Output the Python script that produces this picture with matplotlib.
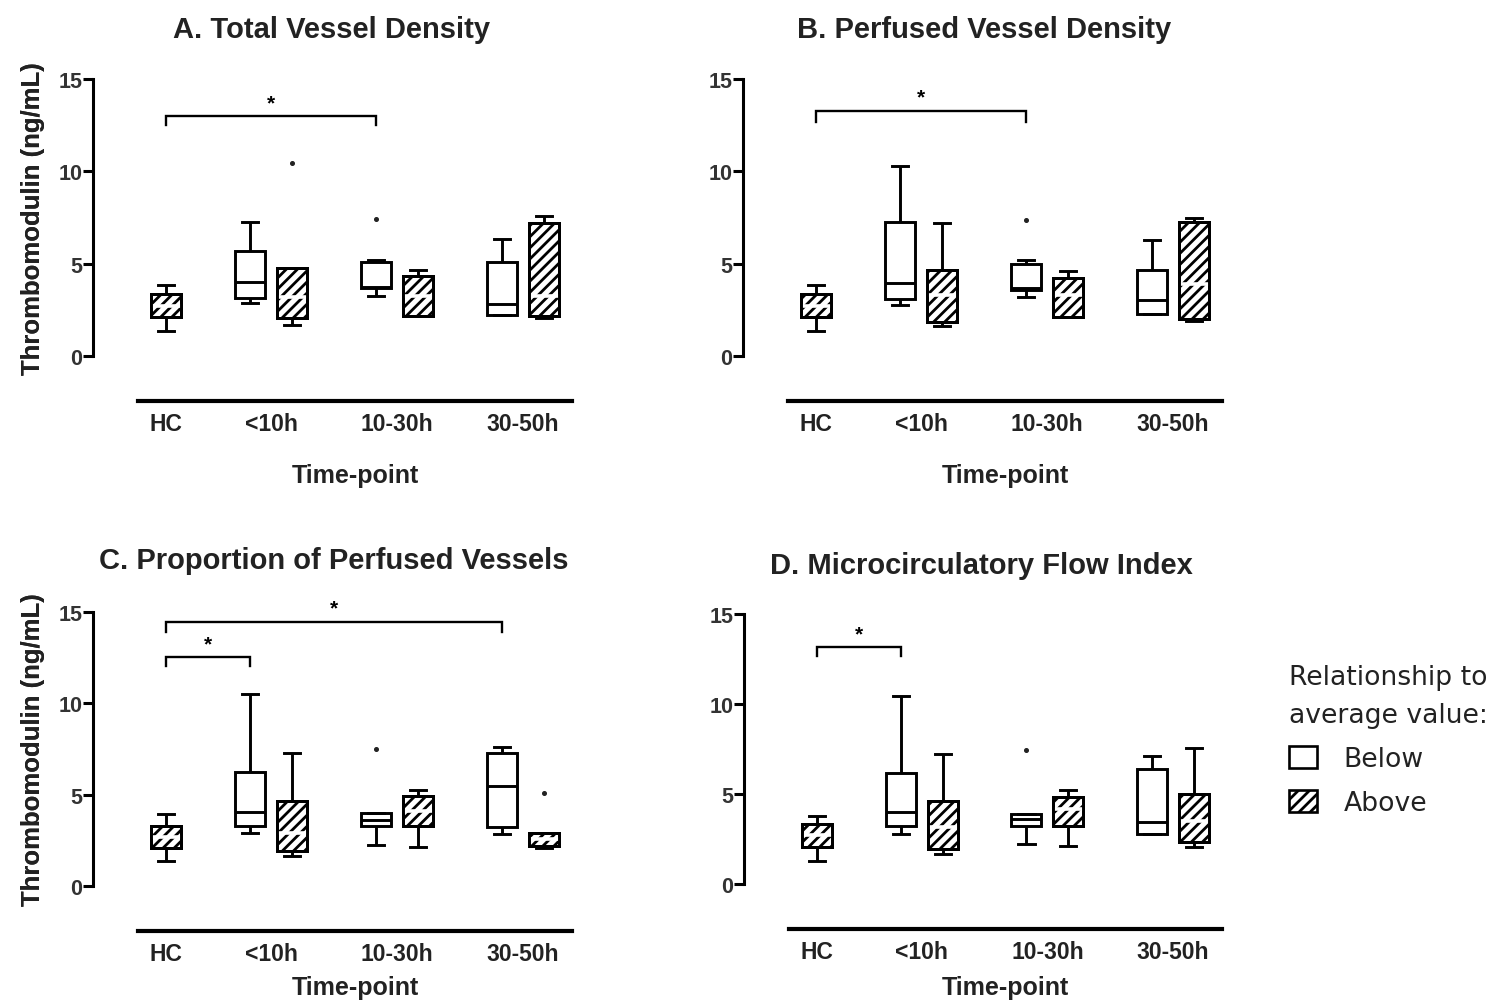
import matplotlib
matplotlib.use("Agg")
import matplotlib.pyplot as plt
from matplotlib.patches import Patch, PathPatch

# ---------------- data ----------------
groups = ["HC", "<10h", "10-30h", "30-50h"]
titles = ["A. Total Vessel Density", "B. Perfused Vessel Density",
          "C. Proportion of Perfused Vessels", "D. Microcirculatory Flow Index"]
ylabel = "Thrombomodulin (ng/mL)"
xlabel = "Time-point"
legend_title = "Relationship to\naverage value:"
series_names = ["Below", "Above"]

# stats: [whisker_low, q1, median, q3, whisker_high]
# "Below" series: groups <10h, 10-30h, 30-50h
A_below = [[2.87, 3.14, 4.00, 5.70, 7.25], [3.25, 3.68, 3.75, 5.08, 5.20], [2.22, 2.22, 2.82, 5.08, 6.33]]
A_below_out = [[], [7.42], []]
# "Above" series: groups HC, <10h, 10-30h, 30-50h
A_above = [[1.37, 2.10, 2.71, 3.36, 3.84], [1.68, 2.06, 3.19, 4.76, 4.76], [2.17, 2.17, 3.25, 4.33, 4.66], [2.05, 2.17, 3.25, 7.20, 7.58]]
A_above_out = [[], [10.43], [], []]

B_below = [[2.78, 3.09, 3.95, 7.24, 10.30], [3.18, 3.55, 3.70, 5.00, 5.18], [2.27, 2.27, 3.04, 4.67, 6.27]]
B_below_out = [[], [7.36], []]
B_above = [[1.37, 2.10, 2.71, 3.36, 3.84], [1.60, 1.85, 3.30, 4.67, 7.20], [2.10, 2.10, 3.30, 4.24, 4.60], [1.90, 2.00, 3.90, 7.24, 7.45]]
B_above_out = [[], [], [], []]

C_below = [[2.90, 3.28, 4.05, 6.24, 10.50], [2.24, 3.28, 3.60, 4.00, 4.00], [2.85, 3.23, 5.47, 7.28, 7.60]]
C_below_out = [[], [7.50], []]
C_above = [[1.37, 2.10, 2.68, 3.28, 3.94], [1.64, 1.92, 2.90, 4.65, 7.28], [2.13, 3.28, 4.10, 4.93, 5.25], [2.10, 2.19, 2.57, 2.90, 2.90]]
C_above_out = [[], [], [], [5.09]]

D_below = [[2.78, 3.22, 4.00, 6.17, 10.46], [2.22, 3.22, 3.60, 3.89, 3.89], [2.78, 2.78, 3.44, 6.39, 7.11]]
D_below_out = [[], [7.44], []]
D_above = [[1.30, 2.04, 2.70, 3.33, 3.80], [1.67, 1.94, 3.17, 4.61, 7.22], [2.11, 3.22, 4.17, 4.83, 5.22], [2.05, 2.33, 3.50, 5.00, 7.56]]
D_above_out = [[], [], [], []]

# significance brackets: (from group, from series, to group, to series, height, drop)
A_sig = [(0, "Above", 2, "Below", 12.98, 0.45)]
B_sig = [(0, "Above", 2, "Below", 13.27, 0.60)]
C_sig = [(0, "Above", 3, "Below", 14.45, 0.55), (0, "Above", 1, "Below", 12.53, 0.50)]
D_sig = [(0, "Above", 1, "Below", 13.15, 0.46)]

panels = [
    (A_below, A_below_out, A_above, A_above_out, A_sig),
    (B_below, B_below_out, B_above, B_above_out, B_sig),
    (C_below, C_below_out, C_above, C_above_out, C_sig),
    (D_below, D_below_out, D_above, D_above_out, D_sig),
]

# ---------------- layout ----------------
W, H = 1492, 1003
fig = plt.figure(figsize=(W / 100, H / 100), dpi=100)
plt.rcParams["hatch.linewidth"] = 2.0
plt.rcParams["hatch.color"] = "black"

FONT = "Liberation Sans"
# axes boxes in pixels: x_left, x_right, y(15), y(0)
boxes_px = [(138, 572, 80, 357), (788, 1222, 80, 357), (138, 572, 613, 887), (789, 1222, 615, 885)]
title_px = [(332, 30), (984, 30), (334, 561), (981, 566)]

off = 0.167
width = 0.24
group_x = {0: 0.0, 1: 1.0, 2: 2.0, 3: 3.0}


def xpos(g, s):
    return group_x[g] + (-off if s == "Below" else off)


def stat_dicts(stats, outs):
    res = []
    for st, o in zip(stats, outs):
        res.append(dict(whislo=st[0], q1=st[1], med=st[2], q3=st[3], whishi=st[4], fliers=o))
    return res


lw = 2.1
for k, (below, below_out, above, above_out, sig) in enumerate(panels):
    x0, x1, y15, y0 = boxes_px[k]
    ax = fig.add_axes([x0 / W, 1 - y0 / H, (x1 - x0) / W, (y0 - y15) / H])
    ax.set_xlim(-0.056, 3.39)
    ax.set_ylim(0, 15)

    common = dict(widths=width, capwidths=0.13, patch_artist=True, manage_ticks=False,
                  whiskerprops=dict(color="black", lw=lw, solid_capstyle="butt"),
                  capprops=dict(color="black", lw=lw),
                  flierprops=dict(marker="o", markersize=2.6, markerfacecolor="#222222",
                                  markeredgecolor="#222222", linestyle="none"))
    # Below (open boxes)
    pos_b = [xpos(g, "Below") for g in (1, 2, 3)]
    ax.bxp(stat_dicts(below, below_out), positions=pos_b,
           boxprops=dict(facecolor="white", edgecolor="black", lw=lw),
           medianprops=dict(color="black", lw=lw, solid_capstyle="butt"), **common)
    # Above (hatched boxes)
    pos_a = [xpos(g, "Above") for g in (0, 1, 2, 3)]
    ra = ax.bxp(stat_dicts(above, above_out), positions=pos_a,
                boxprops=dict(facecolor="white", edgecolor="black", lw=lw, hatch="///"),
                medianprops=dict(color="white", lw=2.6, solid_capstyle="butt", zorder=2.1), **common)
    for b in ra["boxes"]:
        ax.add_patch(PathPatch(b.get_path(), fill=False, edgecolor="black", lw=lw, zorder=2.2))

    # significance brackets
    for (g1, s1, g2, s2, h, d) in sig:
        xa, xb = xpos(g1, s1), xpos(g2, s2)
        ax.plot([xa, xa, xb, xb], [h - d, h, h, h - d], color="black", lw=1.7,
                solid_joinstyle="miter", clip_on=False)
        ax.text((xa + xb) / 2, h + 0.75, "*", ha="center", va="center",
                fontsize=15, fontweight="bold", family=FONT)

    # spines
    for s in ("top", "right"):
        ax.spines[s].set_visible(False)
    ax.spines["left"].set_position(("outward", 45 * 0.72))
    ax.spines["left"].set_bounds(0, 15)
    ax.spines["left"].set_linewidth(2.2)
    ax.spines["bottom"].set_position(("outward", 45 * 0.72))
    ax.spines["bottom"].set_linewidth(3.0)

    ax.set_yticks([0, 5, 10, 15])
    ax.set_yticklabels(["0", "5", "10", "15"], fontsize=15.5, fontweight="bold",
                       family=FONT, color="#333333")
    ax.tick_params(axis="y", length=7, width=2.2, pad=0.5, color="black")
    ax.set_xticks([xpos(0, "Above"), 1, 2, 3])
    ax.set_xticklabels(groups, fontsize=16.5, fontweight="bold", family=FONT, color="#222222")
    ax.tick_params(axis="x", length=0, pad=8)

    ax.set_ylabel(ylabel, fontsize=18.5, fontweight="bold", family=FONT, color="#222222")
    ax.yaxis.set_label_coords((45 - x0) / (x1 - x0), 0.5)
    lab = ax.set_xlabel(xlabel, fontsize=18, fontweight="bold", family=FONT, color="#222222")
    lab.set_verticalalignment("center")
    ty = 476 if k < 2 else 988
    ax.xaxis.set_label_coords(0.5, (y0 - ty) / (y0 - y15))
    ax.patch.set_alpha(0)

    tx, tyy = title_px[k]
    fig.text(tx / W, 1 - tyy / H, titles[k], ha="center", va="center",
             fontsize=21, fontweight="bold", family=FONT, color="#222222")

handles = [Patch(facecolor="white", edgecolor="black", lw=1.9),
           Patch(facecolor="white", edgecolor="black", lw=1.9, hatch="///")]
leg = fig.legend(handles, series_names, title=legend_title, loc="upper left",
                 bbox_to_anchor=(1289 / W, 1 - 665 / H), frameon=False,
                 prop=dict(family="DejaVu Sans", size=19.2),
                 title_fontproperties=dict(family="DejaVu Sans", size=19.2),
                 alignment="left", handlelength=1.05, handleheight=0.85,
                 handletextpad=1.0, labelspacing=0.68, borderpad=0, borderaxespad=0)
for t in leg.get_texts():
    t.set_color("#222222")
leg.get_title().set_color("#222222")
leg.get_title().set_linespacing(1.6)

fig.savefig("out.png", dpi=100, facecolor="white")
